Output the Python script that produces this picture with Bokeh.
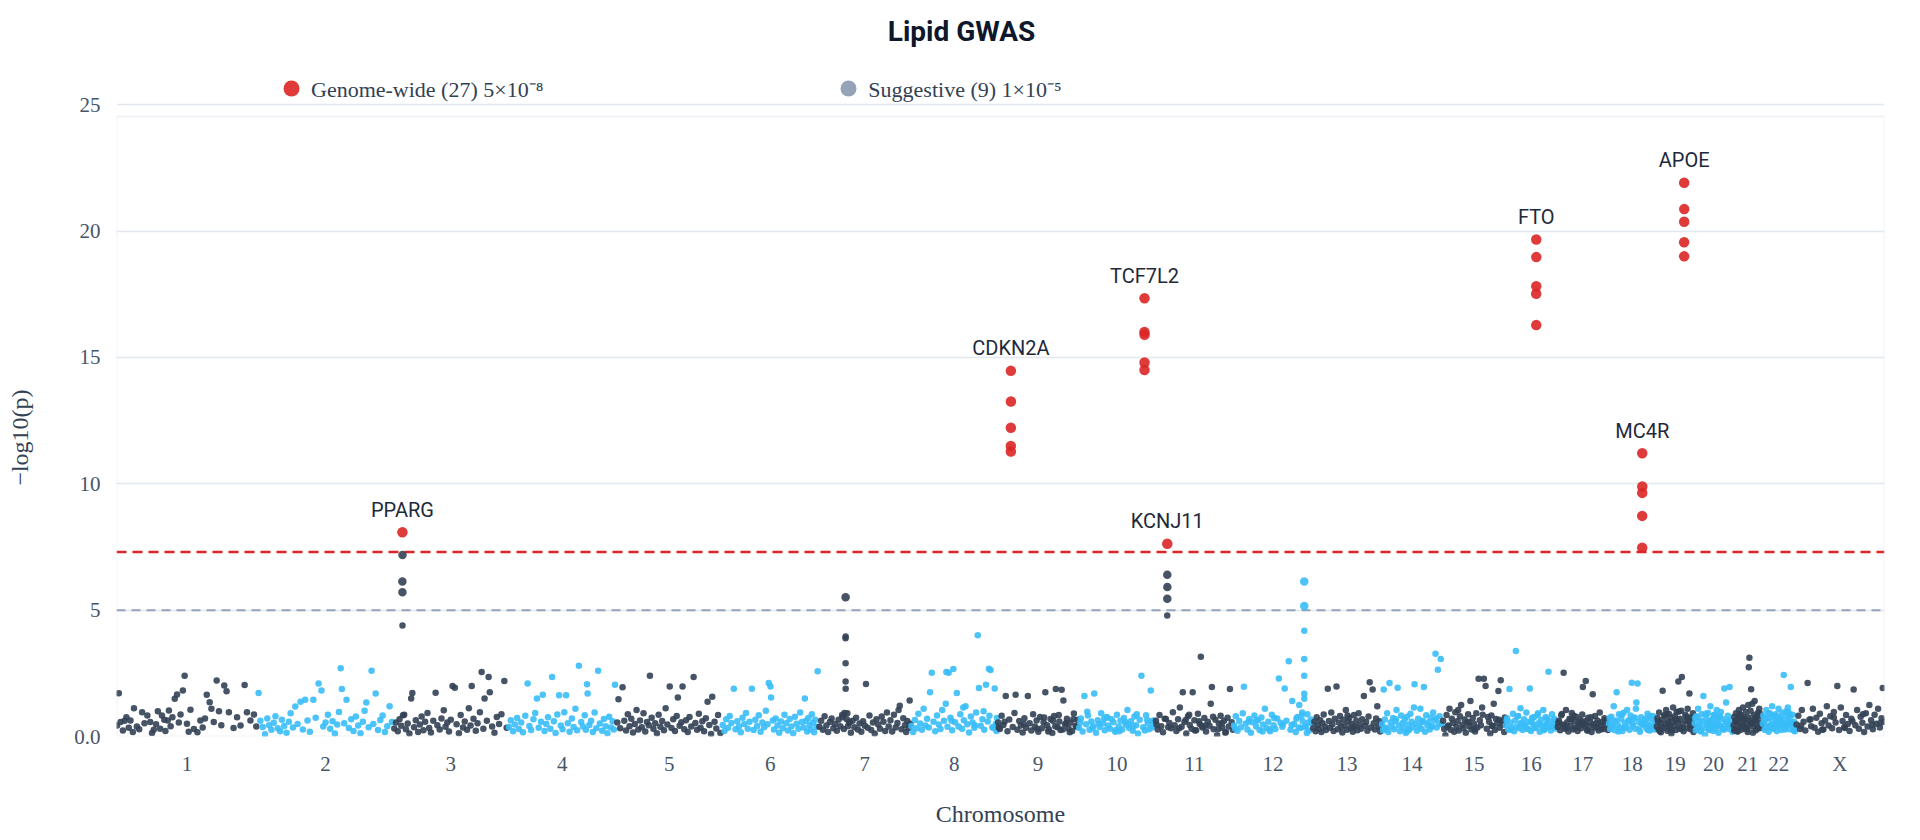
from bokeh.plotting import figure
from bokeh.models import (ColumnDataSource, Range1d, FixedTicker, Span, BoxAnnotation,
                          Label, Legend, LegendItem)
from bokeh.core.properties import value
from bokeh.embed import file_html
from bokeh.resources import INLINE

# ---------------- data ----------------
CHROMS = ["1", "2", "3", "4", "5", "6", "7", "8", "9", "10", "11", "12",
          "13", "14", "15", "16", "17", "18", "19", "20", "21", "22", "X"]
CHROM_LEN = [242, 234, 196, 187, 180, 167, 158, 149, 139, 132, 134, 136,
             118, 105, 108, 89, 88, 82, 65, 67, 50, 57, 153]

BG_POS = [
    [1,4,7,11,14,17,21,24,28,30, 35,39,44,48,53,58,61,64,68,71, 75,78,82,84,88,90,93,96,100,104,
     107,110,114,117,121,124,127,133,139,144, 148,152,155,160,163,167,172,176,180,185, 189,193,201,207,213,220,224,230,236,240],
    [2,5,9,13,17,20,24,28,31,35, 39,42,46,50,54,57,61,65,69,74, 78,82,86,90,96,100,105,110,113,117,
     121,125,129,133,137,140,143,145,149,153, 157,161,165,169,173,177,181,184,187,191, 196,199,203,207,211,215,219,223,227,231],
    [1,4,7,10,13,16,18,21,24,27, 30,32,35,38,42,45,48,51,54,58, 61,64,68,72,75,79,82,86,89,92,
     95,98,101,105,108,112,115,119,122,126, 129,132,134,137,141,144,148,151,154,156, 160,163,165,169,173,177,181,185,190,194],
    [2,5,9,12,16,19,23,26,30,34, 37,40,44,47,50,53,57,60,63,66, 69,73,76,79,82,85,88,91,94,97,
     100,103,106,110,113,116,119,122,126,129, 132,134,136,137,140,143,146,149,152,155, 158,162,165,168,171,174,177,180,182,184],
    [1,3,6,10,13,16,19,22,25,28, 31,34,37,40,43,46,49,52,55,57, 60,63,66,69,72,75,78,81,84,87,
     91,94,97,100,103,105,108,111,113,116, 119,122,125,128,132,135,138,141,144,147, 150,153,156,159,162,164,168,171,174,178],
    [2,5,8,11,14,17,21,24,27,30, 33,36,39,42,45,48,52,55,58,61, 64,67,70,73,76,79,81,84,85,88,
     90,93,96,99,102,105,108,111,114,117, 120,123,126,129,132,135,138,141,143,145, 147,149,151,153,155,157,159,161,163,165],
    [1,4,7,10,13,16,19,22,25,28, 31,34,37,40,43,49,52,55,58,61, 64,67,70,73,76,79,81,84,87,90,
     93,96,99,102,105,108,111,114,117,120, 123,126,129,132,135,137,139,142,145,148, 150,152,154,156,157,41,44,48,50,53],
    [1,4,7,10,13,16,19,22,25,28, 31,33,36,39,42,45,48,51,54,57, 61,63,65,68,71,73,76,79,82,85,
     88,91,94,97,100,103,106,109,112,115, 117,120,123,126,129,132,134,137,140,144, 146,147,148,60,70,90,110,125,135,142],
    [1,4,7,10,14,17,20,26,29,31, 34,37,40,43,46,49,52,55,58,61, 64,67,70,73,76,79,82,85,88,91,
     94,97,100,103,106,108,110,113,116,119, 122,125,128,131,134,137,2,12,45,68, 80,87,95,99,105,112,118,124,130,136],
    [1,4,7,10,13,16,19,22,25,27, 30,33,36,39,42,45,48,51,54,57, 60,63,66,69,72,75,78,81,84,87,
     90,93,96,99,102,105,108,111,116,119, 121,124,127,130,3,15,24,44,64,80, 94,100,114,118,126,35,50,70,85,129],
    [1,4,7,10,13,16,24,27,30,33, 36,39,42,45,47,50,53,56,59,62, 64,67,70,73,76,78,81,84,87,90,
     93,95,97,100,103,106,109,112,115,118, 121,124,126,128,131,133,2,18,41,58, 68,75,86,99,108,114,120,22,52,80],
    [1,4,7,10,13,16,18,21,24,27, 30,33,36,39,42,45,48,51,54,57, 60,63,66,69,72,75,78,81,84,88,
     91,95,98,101,104,107,110,113,116,119, 124,127,130,133,135,3,26,50,70,100, 118,123,126,117,129,40,62,85,108,112],
    [1,3,5,7,9,11,13,15,17,19, 21,23,26,28,30,32,34,36,38,41, 43,45,47,49,51,53,55,57,59,61,
     63,65,67,69,71,73,75,77,79,81, 83,85,88,90,92,94,96,98,100,103, 105,107,109,111,113,115,116,117,60,70],
    [1,3,4,6,8,10,12,14,16,18, 20,22,24,26,28,30,32,34,36,38, 40,42,44,46,48,50,52,54,57,59,
     61,63,65,67,69,71,73,75,77,79, 81,83,85,87,89,91,93,95,97,99, 100,102,104,9,25,45,56,70,86,94],
    [1,3,5,7,10,12,14,16,18,20, 22,24,26,28,30,32,34,36,38,40, 42,44,46,48,50,52,54,56,58,60,
     62,64,66,68,71,74,76,78,80,82, 84,86,88,90,92,94,96,98,100,102, 104,106,107,9,27,45,55,69,85,97],
    [1,3,5,7,9,11,13,15,17,18, 20,22,24,26,28,30,32,34,36,38, 40,42,44,46,48,50,55,57,59,61,
     63,65,67,69,71,73,74,76,78,80, 82,84,86,88,2,10,21,33,45,52, 56,60,66,72,79,85,27,39,49,70],
    [1,3,5,7,9,11,13,15,17,19, 21,23,25,27,29,31,33,35,37,39, 41,43,44,46,48,49,51,53,55,57,
     59,61,63,65,67,69,71,73,75,77, 79,81,83,85,87,2,8,16,24,36, 42,52,58,64,70,76,82,12,28,47],
    [1,3,5,7,9,11,13,14,16,18, 20,22,24,26,28,30,32,34,36,38, 40,42,44,46,48,50,52,54,56,61,
     63,65,67,69,71,73,75,77,79,81, 2,6,10,17,23,29,35,41,47,53, 60,64,68,72,76,80,27,45,57,70],
    [1,2,4,5,7,8,10,11,13,14, 16,17,19,20,22,23,25,26,28,29, 31,32,34,35,37,38,40,41,43,44,
     46,47,50,51,53,54,56,57,59,60, 62,63,64,3,9,15,21,27,33,39, 45,52,58,61,6,18,24,36,42,55],
    [1,3,4,6,7,9,10,12,13,16, 18,19,21,22,24,25,27,28,30,31, 33,34,36,37,39,40,42,43,45,46,
     48,49,51,52,54,55,57,58,60,61, 63,64,66,2,8,15,20,26,32,38, 44,50,56,62,5,11,23,29,35,41],
    [1,2,3,5,6,7,9,10,11,13, 14,15,17,18,19,21,22,23,25,26, 27,28,29,31,32,33,35,36,37,39,
     40,41,43,44,45,47,48,49,4,8, 12,16,20,24,30,34,38,42,46,50, 2,6,10,14,18,22,26,30,34,38],
    [1,2,4,5,7,8,10,11,13,14, 16,17,19,20,22,23,25,26,28,29, 31,32,34,35,37,38,40,41,43,44,
     46,47,49,50,52,53,55,56,3,9, 12,18,24,30,36,42,48,54,6,15, 21,27,33,39,45,51,56,27,39,47],
    [2,5,8,11,14,17,21,24,27,30, 33,36,39,42,45,48,51,54,57,60, 63,66,69,72,75,78,81,84,87,90,
     93,96,100,103,106,109,112,115,118,121, 124,127,130,133,136,139,142,145,148,150, 152,10,26,46,66,85,98,116,132,146],
]

BG_LOGP = [
    [0.44,1.71,0.57,0.24,0.62,0.76,0.35,0.63,0.18,1.12, 0.40,0.29,0.96,0.52,0.83,0.57,0.14,0.27,0.48,1.00,
     0.31,0.83,0.66,0.22,0.63,1.03,0.41,0.76,1.49,1.66, 0.55,0.87,1.82,2.40,0.50,0.19,1.06,0.30,0.17,0.63,
     0.36,0.71,1.65,1.36,1.10,0.57,2.22,1.00,0.45,2.02, 1.79,0.96,0.34,0.76,0.44,2.04,0.96,0.63,0.87,0.40],
    [1.72,0.62,0.38,0.09,0.71,0.45,0.27,0.54,0.80,0.33, 0.21,0.66,0.42,0.15,0.58,0.92,0.36,1.19,0.49,1.38,
     0.28,1.45,0.63,0.19,1.45,0.74,2.10,1.82,0.40,0.55, 0.86,0.31,0.60,0.12,0.47,0.97,2.70,1.88,0.52,1.45,
     0.34,0.68,0.22,0.79,0.44,0.13,0.58,1.02,1.35,0.37, 2.60,0.49,1.70,0.26,0.65,0.83,0.18,0.41,1.20,0.57],
    [0.32,0.55,0.21,0.68,0.43,0.84,0.86,0.29,0.51,0.12, 1.50,1.72,0.37,0.64,0.18,0.47,0.79,0.25,0.58,0.93,
     0.34,0.16,0.62,1.73,0.45,0.28,0.71,1.04,0.39,0.55, 0.20,0.66,2.00,1.93,0.48,0.13,0.85,0.36,0.59,0.27,
     1.12,0.44,2.00,0.70,0.23,0.52,0.96,2.55,0.31,1.50, 0.62,2.35,1.75,0.40,0.15,0.77,0.49,0.88,2.20,0.35],
    [0.38,0.64,0.21,0.47,0.73,0.30,0.55,0.17,0.82,2.10, 0.42,0.26,0.68,0.93,1.50,0.35,0.58,1.65,0.22,0.49,
     0.76,0.31,2.35,0.60,0.14,0.87,1.63,0.44,0.29,0.96, 1.63,0.52,0.19,0.71,0.38,1.10,0.25,2.80,0.57,0.40,
     0.84,0.27,2.07,1.70,0.46,0.62,0.18,0.95,0.33,2.60, 0.51,0.23,0.69,0.41,0.13,0.78,0.36,0.60,0.28,2.05],
    [0.55,1.47,0.33,1.95,0.62,0.24,0.88,0.41,0.70,0.16, 0.49,1.05,0.28,0.63,0.37,0.92,0.20,0.57,0.45,2.40,
     0.74,0.31,0.52,0.13,0.86,0.39,0.61,0.25,1.12,0.47, 1.98,0.34,0.68,0.22,0.81,1.54,0.43,0.56,1.98,0.29,
     0.64,0.18,0.77,0.40,2.35,0.53,0.27,0.90,0.35,0.60, 0.21,0.72,1.38,0.46,0.10,1.57,0.58,0.32,0.85,0.14],
    [0.46,0.22,0.68,0.35,0.81,0.53,1.89,0.29,0.60,0.40, 0.17,0.74,0.49,0.93,0.31,0.58,1.89,0.26,0.66,0.42,
     0.84,0.19,0.55,0.37,1.02,0.48,2.12,1.98,1.54,0.63, 0.28,0.71,0.44,0.15,0.59,0.33,0.86,0.52,0.24,0.69,
     0.40,0.13,0.78,0.50,0.31,0.95,0.57,0.36,1.50,0.62, 0.20,0.73,0.45,0.28,0.88,0.54,0.17,0.66,0.39,2.58],
    [0.39,0.62,0.27,0.80,0.44,0.18,0.57,0.71,0.33,0.49, 0.23,0.66,0.41,0.85,0.30,0.92,0.54,0.15,0.62,0.37,
     0.74,0.28,0.51,0.19,0.60,0.43,2.08,0.35,0.83,0.26, 0.55,0.12,0.68,0.47,0.31,0.79,0.58,0.22,0.95,0.40,
     0.64,0.20,0.86,0.36,0.53,1.05,1.22,0.29,0.72,0.45, 0.18,0.61,0.34,1.42,0.50,0.76,0.93,0.68,0.41,0.57],
    [0.42,0.18,0.65,0.33,0.90,0.51,0.27,1.10,0.44,0.70, 0.36,1.75,2.52,0.58,0.21,0.83,0.47,0.30,1.05,0.62,
     2.55,0.39,2.52,0.74,0.25,2.67,0.56,1.72,0.40,0.88, 0.31,0.64,1.20,0.48,0.16,0.79,0.55,0.35,0.95,4.01,
     1.92,0.43,0.68,0.27,2.05,0.59,2.68,2.63,0.37,1.90, 0.50,0.22,0.73,1.30,0.62,1.15,0.45,1.00,0.82,0.34],
    [0.55,0.30,0.82,0.46,1.60,0.21,0.67,0.38,0.93,1.65, 0.27,0.61,0.44,0.16,0.72,0.35,1.60,0.52,0.24,0.88,
     0.40,0.63,0.19,0.77,0.33,0.56,1.75,0.45,0.29,0.69, 0.14,0.81,1.88,0.37,0.59,0.26,1.85,1.42,0.48,0.70,
     0.32,0.54,0.22,0.91,0.43,0.66,0.36,0.58,0.49,0.31, 0.75,0.20,0.62,0.41,0.85,0.28,0.53,0.17,0.68,0.39],
    [0.35,0.71,0.20,1.60,0.48,0.83,0.27,0.59,0.42,1.70, 0.15,0.64,0.38,0.92,0.51,0.25,0.77,0.44,0.31,0.68,
     0.56,0.19,0.86,0.40,0.62,0.28,0.73,0.47,1.05,0.34, 0.60,0.23,0.79,0.45,0.12,0.66,2.40,0.37,0.84,0.52,
     0.29,1.82,0.61,0.43,0.55,0.98,0.33,0.70,0.26,0.58, 0.41,0.88,0.24,0.65,0.36,0.50,0.74,0.21,0.47,0.63],
    [0.62,0.28,0.85,0.41,0.17,0.70,0.53,0.33,0.96,0.45, 0.22,0.68,1.15,0.39,1.75,0.57,0.12,0.80,0.46,0.31,
     1.75,0.64,0.25,0.90,0.49,3.16,0.36,0.73,0.20,0.58, 0.43,1.30,1.96,0.29,0.66,0.05,0.51,0.82,0.35,0.62,
     0.18,0.74,0.40,1.88,0.56,0.27,0.47,0.69,0.33,0.86, 0.24,0.60,0.44,0.78,0.30,0.52,0.15,0.37,0.65,0.42],
    [0.44,0.80,0.23,0.61,0.37,0.92,1.97,0.50,0.28,0.69, 0.15,0.56,0.83,0.40,0.64,0.26,0.75,0.47,1.10,0.33,
     0.58,0.21,0.86,0.45,0.30,0.71,2.30,0.54,0.39,1.90, 0.62,2.98,0.27,1.40,0.49,0.18,0.77,1.25,0.35,0.60,
     0.42,0.88,0.24,0.67,0.51,0.32,0.59,0.20,0.73,0.46, 0.95,0.38,0.14,0.82,0.55,0.63,0.29,0.48,0.70,0.36],
    [0.33,0.58,0.21,0.76,0.45,0.30,0.64,0.18,0.52,0.87, 0.40,0.26,1.89,0.61,0.35,0.95,0.48,0.22,0.70,1.98,
     0.29,0.55,0.81,0.38,0.16,0.66,0.44,1.05,0.27,0.59, 0.74,0.34,0.50,0.19,0.85,0.41,0.63,0.25,0.92,0.47,
     0.31,0.68,1.60,0.43,0.57,0.23,0.79,2.15,0.36,1.86, 0.52,0.28,0.71,1.20,0.39,0.60,0.20,0.48,0.83,0.37],
    [0.48,0.25,1.86,0.67,0.35,0.92,0.18,2.12,0.55,0.40, 0.73,0.29,0.60,1.05,1.93,0.44,0.21,0.83,0.52,0.33,
     0.65,0.14,0.78,0.46,0.27,0.90,0.58,0.37,2.07,0.50, 0.23,0.70,0.42,1.10,0.31,0.62,1.96,0.19,0.84,0.45,
     0.56,0.28,0.75,0.40,0.95,0.63,3.27,0.36,2.64,0.52, 0.80,3.07,0.47,0.30,0.68,0.22,1.15,0.57,0.39,0.72],
    [0.62,0.30,0.05,0.85,0.44,1.10,0.27,0.70,0.53,0.19, 0.96,0.38,0.61,0.24,0.80,1.25,0.46,0.33,0.67,0.15,
     0.55,0.88,0.41,1.40,0.28,0.73,0.50,0.20,0.92,0.36, 2.29,0.64,0.45,1.15,2.29,2.00,0.31,0.77,0.58,0.12,
     0.83,0.42,1.30,0.26,0.69,0.52,1.80,0.35,2.23,0.60, 0.47,0.18,0.75,0.39,1.05,0.57,0.29,0.86,0.43,0.66],
    [0.45,0.72,0.28,1.88,0.55,0.36,0.90,0.21,0.63,3.38, 0.40,0.81,0.33,1.12,0.50,0.26,0.68,0.44,0.95,0.31,
     0.58,1.90,0.22,0.74,0.47,0.35,0.85,0.52,0.19,0.66, 0.41,1.05,0.29,0.77,0.53,0.38,2.56,0.60,0.24,0.88,
     0.46,0.70,0.32,0.55,0.63,0.27,0.80,0.42,0.58,0.34, 0.92,0.48,0.25,0.71,0.39,0.62,0.53,0.30,0.76,0.45],
    [0.38,0.62,0.25,0.84,0.47,2.52,0.31,1.05,0.56,0.20, 0.70,0.42,0.93,0.28,0.59,0.35,0.78,0.22,0.51,0.66,
     0.33,0.87,1.96,0.45,0.60,2.20,0.27,0.74,0.40,0.55, 0.18,1.67,0.49,0.81,0.36,0.63,0.24,0.95,0.43,0.57,
     0.30,0.72,0.46,0.61,0.26,0.53,0.89,0.34,0.68,0.41, 0.58,0.23,0.76,0.37,0.52,0.29,0.64,0.44,0.83,0.50],
    [0.52,0.30,0.78,0.41,1.20,0.25,0.63,1.75,0.46,0.88, 0.35,0.69,0.22,0.94,0.54,0.38,1.05,0.60,0.27,0.83,
     2.13,0.44,0.71,0.31,1.35,2.10,0.57,0.19,0.76,0.48, 0.62,0.33,0.90,0.45,0.24,0.67,0.39,0.80,0.28,0.55,
     0.73,0.42,0.58,0.20,0.86,0.36,0.64,0.50,1.10,0.32, 0.47,0.69,0.26,0.81,0.40,0.59,0.34,0.75,0.52,0.43],
    [0.40,0.72,0.28,0.95,0.53,0.17,0.66,1.81,0.35,0.84, 0.47,1.05,0.23,0.61,0.89,0.31,0.74,0.12,0.58,1.15,
     0.42,0.80,0.26,0.97,0.55,2.18,0.36,0.70,1.02,2.35, 0.49,0.21,0.86,0.63,0.33,1.10,0.57,1.70,0.29,0.76,
     0.44,0.92,0.18,0.60,0.38,0.83,0.51,0.25,0.68,0.99, 0.34,0.78,0.46,0.59,0.22,0.88,0.41,0.65,0.30,0.73],
    [0.52,0.25,0.80,0.38,1.10,0.45,0.63,0.20,0.88,1.60, 0.34,0.05,0.71,0.47,0.93,0.28,0.59,1.20,0.40,0.67,
     0.22,0.84,0.50,0.31,1.05,0.62,0.15,0.76,0.43,0.97, 0.36,0.69,0.27,1.90,0.55,1.35,0.41,0.82,0.30,1.96,
     0.64,0.48,0.19,0.73,0.35,0.58,0.90,0.26,0.67,0.44, 0.81,0.32,0.60,0.46,0.75,0.23,0.54,0.39,0.86,0.51],
    [0.45,0.78,0.30,0.92,0.56,0.21,0.68,1.05,0.38,0.84, 0.27,0.61,1.15,0.43,0.74,0.33,0.97,0.52,0.18,1.25,
     2.74,3.12,0.64,1.87,0.40,1.30,0.58,0.86,1.40,0.25, 0.70,0.47,0.95,0.32,1.10,0.55,0.80,0.36,0.62,0.20,
     0.88,0.41,0.66,0.29,1.02,0.53,0.74,0.35,0.91,0.48, 0.24,0.59,0.82,0.44,0.69,0.31,0.76,0.50,0.15,0.63],
    [0.50,0.83,0.27,0.65,1.05,0.36,0.74,0.19,0.92,0.43, 0.60,1.20,0.31,0.78,0.47,0.88,0.22,0.57,1.10,0.40,
     0.69,0.26,0.95,0.52,2.43,0.34,0.81,0.45,0.63,1.15, 0.29,0.72,1.96,0.48,0.86,0.37,0.58,0.21,0.66,0.42,
     0.90,0.33,0.61,0.76,0.44,1.00,0.53,0.24,0.70,0.39, 0.82,0.46,0.64,0.28,0.97,0.55,0.35,0.73,0.50,0.87],
    [0.47,0.82,0.30,1.05,0.58,0.24,2.12,0.66,0.41,1.10, 0.35,0.74,0.19,0.90,0.52,0.28,0.63,1.20,0.44,0.80,
     0.33,0.97,0.55,2.00,0.26,1.15,0.61,0.38,0.85,0.49, 0.22,0.70,1.86,0.45,1.05,0.31,0.78,0.54,0.18,0.92,
     0.40,1.25,0.64,0.29,0.86,0.50,1.10,0.36,0.72,1.92, 0.58,0.43,0.68,0.27,0.75,0.34,0.60,0.88,0.46,0.53],
]

# SNPs at association peaks (chromosome, position in Mb, -log10 p, gene label)
PEAK_CHROM = ["3"] * 5 + ["7"] * 6 + ["9"] * 5 + ["10"] * 5 + ["11"] * 5 + ["12"] * 7 + ["16"] * 5 + ["18"] * 5 + ["19"] * 5
PEAK_POS = [15.0, 15.1, 14.9, 15.0, 15.1,
            46.0, 46.1, 45.9, 46.0, 46.0, 46.1,
            22.8, 22.9, 22.8, 22.7, 22.8,
            113.3, 113.2, 113.4, 113.3, 113.3,
            20.4, 20.4, 20.5, 20.4, 20.3,
            121.6, 121.6, 121.7, 121.5, 121.6, 121.6, 121.7,
            53.0, 53.1, 53.0, 52.9, 53.0,
            58.0, 58.1, 58.0, 57.9, 58.0,
            48.0, 48.1, 48.0, 47.9, 48.0]
PEAK_LOGP = [8.08, 7.18, 6.13, 5.71, 4.39,
             5.51, 3.96, 3.89, 2.90, 2.18, 1.89,
             14.47, 13.26, 12.22, 11.50, 11.28,
             17.34, 16.01, 15.90, 14.80, 14.50,
             7.63, 6.40, 5.92, 5.45, 4.79,
             6.13, 5.16, 4.18, 3.07, 2.40, 1.69, 1.49,
             19.67, 18.97, 17.82, 17.52, 16.28,
             11.21, 9.89, 9.64, 8.73, 7.47,
             21.91, 20.87, 20.37, 19.56, 19.00]
PEAK_GENE = ["PPARG"] * 5 + [""] * 6 + ["CDKN2A"] * 5 + ["TCF7L2"] * 5 + ["KCNJ11"] * 5 + [""] * 7 + ["FTO"] * 5 + ["MC4R"] * 5 + ["APOE"] * 5

GW_THRESH = 7.30     # -log10(5e-8)
SUG_THRESH = 5.00    # -log10(1e-5)
Y_TICKS = [0, 5, 10, 15, 20, 25]

# ---------------- styling ----------------
DARK = "#334155"
LIGHT = "#38bdf8"
RED = "#dc2626"
GREY = "#94a3b8"
SERIF = "Liberation Serif"

offsets = []
acc = 0
for L in CHROM_LEN:
    offsets.append(acc)
    acc += L
TOTAL = acc
chrom_index = {c: i for i, c in enumerate(CHROMS)}
centers = [offsets[i] + CHROM_LEN[i] / 2 for i in range(len(CHROMS))]

snp_x, snp_y, snp_c, snp_s = [], [], [], []
for i, (pl, vl) in enumerate(zip(BG_POS, BG_LOGP)):
    col = DARK if i % 2 == 0 else LIGHT
    for pos, v in zip(pl, vl):
        snp_x.append(offsets[i] + pos)
        snp_y.append(v)
        snp_c.append(col)
        snp_s.append(6.5)

gw_x, gw_y, sug_x, sug_y = [], [], [], []
genes = {}
for ch, pos, v, g in zip(PEAK_CHROM, PEAK_POS, PEAK_LOGP, PEAK_GENE):
    i = chrom_index[ch]
    x = offsets[i] + pos
    if v >= GW_THRESH:
        gw_x.append(x)
        gw_y.append(v)
    else:
        snp_x.append(x)
        snp_y.append(v)
        snp_c.append(DARK if i % 2 == 0 else LIGHT)
        snp_s.append(8.5 if v >= SUG_THRESH else 6.5)
        if v >= SUG_THRESH:
            sug_x.append(x)
            sug_y.append(v)
    if g:
        if g not in genes or v > genes[g][1]:
            genes[g] = (x, v)

n_gw = len(gw_y)
n_sug = len(sug_y)

# frame spans from the canvas top down to y = 0 (title & legend live inside it)
p = figure(width=1916, height=838, output_backend="svg", toolbar_location=None,
           title_location=None,
           x_range=Range1d(0, TOTAL), y_range=Range1d(0, 29.125),
           min_border_left=116, min_border_right=32, min_border_top=0, min_border_bottom=102,
           outline_line_color=None, background_fill_color="white", border_fill_color="white")

p.xgrid.visible = False
p.ygrid.grid_line_color = "#e2e8f0"
p.ygrid.grid_line_width = 1.5

p.yaxis.ticker = FixedTicker(ticks=Y_TICKS)
p.yaxis.major_label_overrides = {0: "0.0"}
p.xaxis.ticker = FixedTicker(ticks=centers)
p.xaxis.major_label_overrides = {c: name for c, name in zip(centers, CHROMS)}

for ax in (p.xaxis[0], p.yaxis[0]):
    ax.axis_line_color = None
    ax.major_tick_line_color = None
    ax.minor_tick_line_color = None
    ax.major_tick_out = 0
    ax.major_tick_in = 0
    ax.major_label_text_font = SERIF
    ax.major_label_text_font_size = "21px"
    ax.major_label_text_color = "#475569"
    ax.axis_label_text_font = SERIF
    ax.axis_label_text_font_size = "24px"
    ax.axis_label_text_font_style = "normal"
    ax.axis_label_text_color = "#334155"
p.xaxis.axis_label = "Chromosome"
p.xaxis.major_label_standoff = 15
p.xaxis.axis_label_standoff = 22
# trailing no-break spaces centre the visible label on the plot box rather than the taller frame
p.yaxis.axis_label = "\u2212log10(p)" + "\u00a0" * 23
p.yaxis.axis_label_standoff = 38
p.yaxis.major_label_standoff = 16

# threshold lines
p.add_layout(Span(location=GW_THRESH, dimension="width", line_color=RED, line_width=2.5,
                  line_dash="10 6", level="underlay"))
p.add_layout(Span(location=SUG_THRESH, dimension="width", line_color=GREY, line_width=2,
                  line_dash="9 6", level="underlay"))

snp_src = ColumnDataSource(dict(x=snp_x, y=snp_y, c=snp_c, s=snp_s))
p.scatter("x", "y", source=snp_src, size="s", fill_color="c", line_color=None, fill_alpha=0.9)

gw_src = ColumnDataSource(dict(x=gw_x, y=gw_y))
gw_r = p.scatter("x", "y", source=gw_src, size=10.5, fill_color=RED, line_color=None, fill_alpha=0.9)
# legend key for the suggestive class (size 0: shows only in the legend)
sug_src = ColumnDataSource(dict(x=sug_x, y=sug_y))
sug_r = p.scatter("x", "y", source=sug_src, size=0, fill_color=GREY, line_color=None)

gene_names = list(genes.keys())
lab_src = ColumnDataSource(dict(x=[genes[g][0] for g in gene_names],
                                y=[genes[g][1] for g in gene_names], t=gene_names))
p.text("x", "y", text="t", source=lab_src, text_align="center", text_baseline="middle",
       y_offset=-22.5, text_font=value("Roboto"), text_font_size="20px", text_color="#1e293b")

# plot box
p.add_layout(BoxAnnotation(left=0, right=TOTAL, bottom=0, top=24.53, fill_alpha=0,
                           line_color="#cbd5e1", line_width=2))

legend = Legend(items=[LegendItem(label=value(f"Genome-wide ({n_gw}) 5\u00d710\u207b\u2078"), renderers=[gw_r]),
                       LegendItem(label=value(f"Suggestive ({n_sug}) 1\u00d710\u207b\u2075"), renderers=[sug_r])],
                orientation="horizontal", location=(155, 628), padding=0, margin=0, spacing=285,
                glyph_width=40, glyph_height=40, label_standoff=0,
                label_text_font=SERIF, label_text_font_size="22px", label_text_color="#334155",
                border_line_color=None, background_fill_alpha=0)
p.add_layout(legend)

p.add_layout(Label(x=845, y=705.5, x_units="screen", y_units="screen", text="Lipid GWAS",
                   text_align="center", text_baseline="middle", text_font="Roboto",
                   text_font_style="bold", text_font_size="28px", text_color="#0f172a"))

open("out.html", "w").write(file_html(p, INLINE))
